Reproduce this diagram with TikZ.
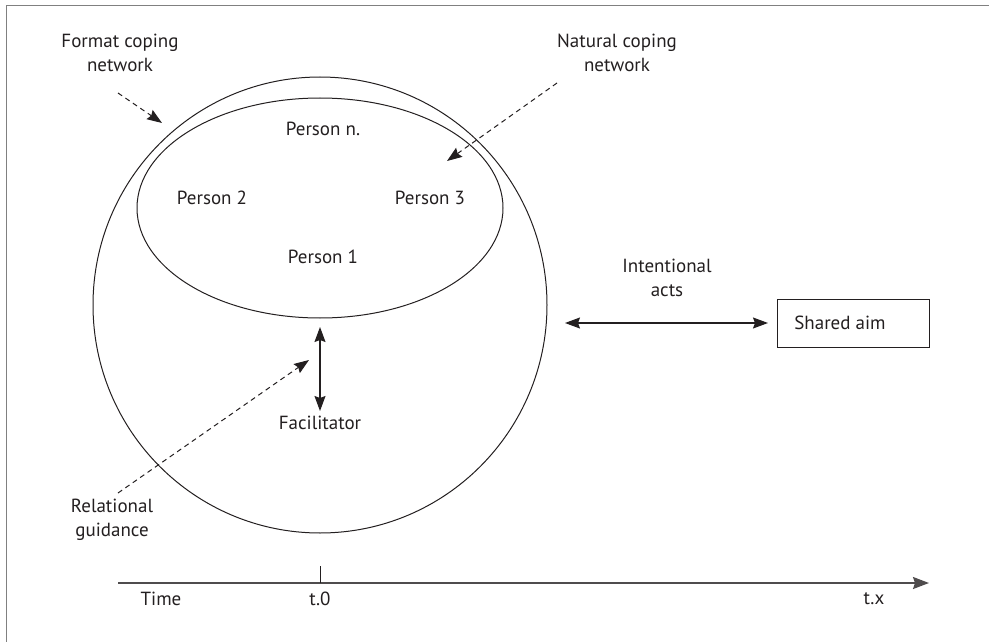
\documentclass[tikz,border=0pt]{standalone}
\usepackage{fontspec}
\setmainfont{PT Sans}
\usetikzlibrary{arrows.meta,shapes.geometric}
\definecolor{txt}{HTML}{231F20}
\definecolor{framec}{HTML}{808080}
\begin{document}
\begin{tikzpicture}[x=1pt,y=-1pt,
  lbl/.style={font=\fontsize{19}{24.5}\selectfont, text=txt, align=center, inner sep=0pt},
  ring/.style={draw=txt, ellipse, line width=1pt, inner sep=0pt},
  dasharrow/.style={draw=txt, line width=1pt, dash pattern=on 5pt off 4pt, -{Stealth[length=15pt,width=11pt,inset=2pt]}},
  duoarrow/.style={draw=txt, line width=1.2pt, {Stealth[length=15pt,width=11pt,inset=2pt]}-{Stealth[length=15pt,width=11pt,inset=2pt]}},
  axisline/.style={draw=txt!80, line width=1.6pt, -{Stealth[length=16pt,width=12pt,inset=2pt]}},
  framel/.style={draw=framec, line width=1.6pt},
  aimbox/.style={draw=txt, line width=1pt, minimum width=152pt, minimum height=48pt, inner sep=0pt}
]
\useasboundingbox (0,0) rectangle (989,642);
% frame (top and left only)
\coordinate (ftl) at (6.5,5.5);
\coordinate (ftr) at (989,5.5);
\coordinate (fbl) at (6.5,642);
\draw[framel] (ftr) -- (ftl) -- (fbl);

% ellipses
\node[ring, minimum width=454pt, minimum height=456pt] (outer) at (320,305) {};
\node[ring, minimum width=366pt, minimum height=220pt] (inner) at (320,208) {};

% persons
\node[lbl] (pn) at (323,129) {Person n.};
\node[lbl] (p2) at (212,198) {Person 2};
\node[lbl] (p3) at (430,198) {Person 3};
\node[lbl] (p1) at (323,257) {Person 1};

% labels
\node[lbl] (fcn) at (120,53) {Format coping\\network};
\node[lbl] (ncn) at (617,53) {Natural coping\\network};
\node[lbl] (ia) at (667,278) {Intentional\\acts};
\node[lbl] (rg) at (112,520) {Relational\\guidance};
\node[lbl] (fac) at (320,423) {Facilitator};
\node[aimbox] (aim) at (853,323) {};
\node[lbl] (aimt) at (840,323) {Shared aim};

% dashed arrows
\coordinate (fcs) at (118,93);
\coordinate (fce) at (162,123);
\draw[dasharrow] (fcs) -- (fce);
\coordinate (ncs) at (557,83);
\coordinate (nce) at (447,161);
\draw[dasharrow] (ncs) -- (nce);
\coordinate (rgs) at (118,493);
\coordinate (rge) at (309,360);
\draw[dasharrow] (rgs) -- (rge);

% facilitator double arrow
\coordinate (fa1) at (320,327);
\coordinate (fa2) at (320,411);
\draw[duoarrow] (fa1) -- (fa2);

% intentional acts arrow
\coordinate (ia1) at (565,323);
\coordinate (ia2) at (768,323);
\draw[duoarrow] (ia1) -- (ia2);

% time axis
\coordinate (ax0) at (118,583);
\coordinate (ax1) at (929,583);
\coordinate (tk) at (320,566);
\coordinate (tkb) at (320,583);
\draw[axisline] (ax0) -- (ax1);
\draw[draw=txt, line width=1pt] (tk) -- (tkb);
\node[lbl] (time) at (161,599) {Time};
\node[lbl] (t0) at (320,599) {t.0};
\node[lbl] (tx) at (874,599) {t.x};
\end{tikzpicture}
\end{document}
